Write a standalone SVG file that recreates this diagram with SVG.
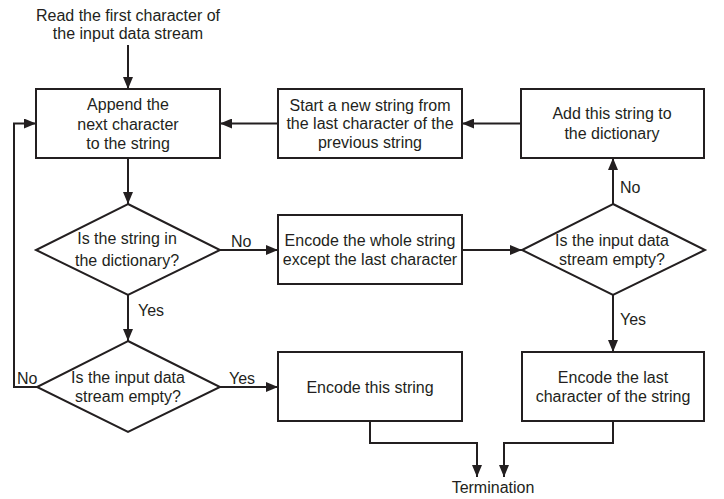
<svg xmlns="http://www.w3.org/2000/svg" width="724" height="499" viewBox="0 0 724 499">
<style>
text{font-family:"Liberation Sans",Arial,sans-serif;font-size:16px;fill:#231f20;text-anchor:middle}
.lbl{text-anchor:start}
.shape{fill:#fff;stroke:#231f20;stroke-width:2}
.c{fill:none;stroke:#231f20;stroke-width:2}
</style>
<defs>
<marker id="ah" markerWidth="12" markerHeight="10" refX="12" refY="5" orient="auto" markerUnits="userSpaceOnUse">
<path d="M0,0 L12,5 L0,10 Z" fill="#231f20"/>
</marker>
</defs>
<rect width="724" height="499" fill="#fff"/>
<g id="connectors">
<path class="c" d="M128,45 V89" marker-end="url(#ah)"/>
<path class="c" d="M128,158 V204" marker-end="url(#ah)"/>
<path class="c" d="M128,295 V341" marker-end="url(#ah)"/>
<path class="c" d="M220,250 H278" marker-end="url(#ah)"/>
<path class="c" d="M462,250 H522" marker-end="url(#ah)"/>
<path class="c" d="M613,204 V158" marker-end="url(#ah)"/>
<path class="c" d="M521,123.5 H462" marker-end="url(#ah)"/>
<path class="c" d="M278,123.5 H220" marker-end="url(#ah)"/>
<path class="c" d="M613,295 V352" marker-end="url(#ah)"/>
<path class="c" d="M220,387 H278" marker-end="url(#ah)"/>
<path class="c" d="M37,387 H14 V123.5 H36" marker-end="url(#ah)"/>
<path class="c" d="M370,421 V443 H477 V477" marker-end="url(#ah)"/>
<path class="c" d="M613,421 V443 H504 V477" marker-end="url(#ah)"/>
<text class="lbl" x="231" y="247">No</text>
<text class="lbl" x="138" y="316">Yes</text>
<text class="lbl" x="620" y="193">No</text>
<text class="lbl" x="620" y="325">Yes</text>
<text class="lbl" x="17" y="384">No</text>
<text class="lbl" x="229" y="384">Yes</text>
</g>
<g id="start"><text x="128" y="21">Read the first character of</text><text x="128" y="39">the input data stream</text></g>
<g id="append"><rect class="shape" x="36" y="89" width="184" height="69"/><text x="128" y="110">Append the</text><text x="128" y="130">next character</text><text x="128" y="149">to the string</text></g>
<g id="newstring"><rect class="shape" x="278" y="89" width="184" height="69"/><text x="370" y="111">Start a new string from</text><text x="370" y="129">the last character of the</text><text x="370" y="148">previous string</text></g>
<g id="adddict"><rect class="shape" x="521" y="89" width="183" height="69"/><text x="612" y="119">Add this string to</text><text x="612" y="139">the dictionary</text></g>
<g id="indict"><polygon class="shape" points="128,204 220,250 128,295 36,250"/><text x="127" y="244">Is the string in</text><text x="127" y="266">the dictionary?</text></g>
<g id="encwhole"><rect class="shape" x="278" y="215" width="184" height="69"/><text x="370" y="246">Encode the whole string</text><text x="370" y="265">except the last character</text></g>
<g id="empty2"><polygon class="shape" points="613,204 705,250 613,295 522,250"/><text x="612" y="246">Is the input data</text><text x="612" y="265">stream empty?</text></g>
<g id="empty1"><polygon class="shape" points="128,341 220,387 128,432 37,387"/><text x="128" y="383">Is the input data</text><text x="128" y="402">stream empty?</text></g>
<g id="encthis"><rect class="shape" x="278" y="352" width="184" height="69"/><text x="370" y="393">Encode this string</text></g>
<g id="enclast"><rect class="shape" x="522" y="352" width="182" height="69"/><text x="613" y="383">Encode the last</text><text x="613" y="402">character of the string</text></g>
<g id="term"><text x="493" y="493">Termination</text></g>
</svg>
